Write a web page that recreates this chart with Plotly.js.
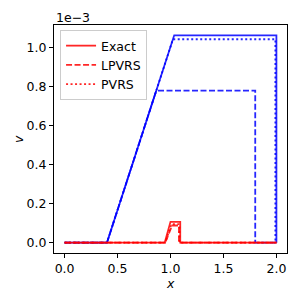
<!DOCTYPE html>
<html>
<head>
<meta charset="utf-8">
<script src="https://cdn.plot.ly/plotly-3.0.1.min.js"></script>
<style>html,body{margin:0;padding:0;background:#fff}#chart{width:300px;height:300px}</style>
</head>
<body>
<div id="chart"></div>
<script>
// values of v are in units of 1e-3
const blueExactX = [0, 0.4, 1.035, 2.0, 2.0];
const blueExactY = [0, 0, 1.063, 1.063, 0];
const blueLpvrsX = [0, 0.4, 0.866, 1.8, 1.8, 2.0];
const blueLpvrsY = [0, 0, 0.78, 0.78, 0, 0];
const bluePvrsX = [0, 0.4, 1.023, 1.99, 1.99, 2.0];
const bluePvrsY = [0, 0, 1.043, 1.043, 0, 0];

const redExactX = [0, 0.945, 1.0, 1.092, 1.092, 2.0];
const redExactY = [0, 0, 0.107, 0.107, 0, 0];
const redLpvrsX = [0, 0.95, 1.015, 1.08, 1.08, 2.0];
const redLpvrsY = [0, 0, 0.088, 0.088, 0, 0];
const redPvrsX = [0, 0.95, 1.01, 1.085, 1.085, 2.0];
const redPvrsY = [0, 0, 0.095, 0.095, 0, 0];

const seriesNames = ["Exact", "LPVRS", "PVRS"];
const xTicks = [0.0, 0.5, 1.0, 1.5, 2.0];
const yTicks = [0.0, 0.2, 0.4, 0.6, 0.8, 1.0];
const xTitle = "<i>x</i>";
const yTitle = "<i>v</i>";

const BLUE = "rgba(0,0,255,0.85)";
const RED = "rgba(255,0,0,0.85)";
const W = 1.8;
const DASH = "6px,2.5px";
const DOT = "2px,2.5px";

const traces = [
  {x: blueExactX, y: blueExactY, mode: "lines", line: {color: BLUE, width: W}, showlegend: false},
  {x: blueLpvrsX, y: blueLpvrsY, mode: "lines", line: {color: BLUE, width: W, dash: DASH}, showlegend: false},
  {x: bluePvrsX, y: bluePvrsY, mode: "lines", line: {color: BLUE, width: W, dash: DOT}, showlegend: false},
  {x: redExactX, y: redExactY, mode: "lines", name: seriesNames[0], line: {color: RED, width: W}},
  {x: redLpvrsX, y: redLpvrsY, mode: "lines", name: seriesNames[1], line: {color: RED, width: W, dash: DASH}},
  {x: redPvrsX, y: redPvrsY, mode: "lines", name: seriesNames[2], line: {color: RED, width: W, dash: DOT}}
];

const font = {family: "DejaVu Sans", size: 12.5, color: "#000"};

const layout = {
  width: 300, height: 300,
  margin: {l: 54, r: 13, t: 25, b: 47, pad: 0},
  paper_bgcolor: "#fff", plot_bgcolor: "#fff",
  font: font,
  showlegend: true,
  legend: {
    x: 0.026, y: 0.978, xanchor: "left", yanchor: "top",
    bgcolor: "rgba(255,255,255,0.8)", bordercolor: "#cccccc", borderwidth: 1,
    font: font, traceorder: "normal"
  },
  xaxis: {
    range: [-0.1, 2.1],
    tickvals: xTicks, ticktext: xTicks.map(v => v.toFixed(1)),
    ticks: "outside", ticklen: 4, tickwidth: 1, tickcolor: "#000",
    showline: true, linecolor: "#000", linewidth: 1, mirror: true,
    showgrid: false, zeroline: false
  },
  yaxis: {
    range: [-0.053, 1.116],
    tickvals: yTicks, ticktext: yTicks.map(v => v.toFixed(1)),
    ticks: "outside", ticklen: 4, tickwidth: 1, tickcolor: "#000",
    showline: true, linecolor: "#000", linewidth: 1, mirror: true,
    showgrid: false, zeroline: false
  },
  annotations: [
    {text: "1e\u22123", xref: "paper", yref: "paper", x: 0, y: 1, xanchor: "left", yanchor: "bottom",
     showarrow: false, font: font, yshift: -2},
    {text: xTitle, xref: "paper", yref: "paper", x: 0.5, y: -0.095, xanchor: "center", yanchor: "top",
     showarrow: false, font: font, borderpad: 0},
    {text: yTitle, xref: "paper", yref: "paper", x: -0.155, y: 0.5, xanchor: "center", yanchor: "middle",
     textangle: -90, showarrow: false, font: font}
  ]
};

Plotly.newPlot("chart", traces, layout, {staticPlot: true});
</script>
</body>
</html>
